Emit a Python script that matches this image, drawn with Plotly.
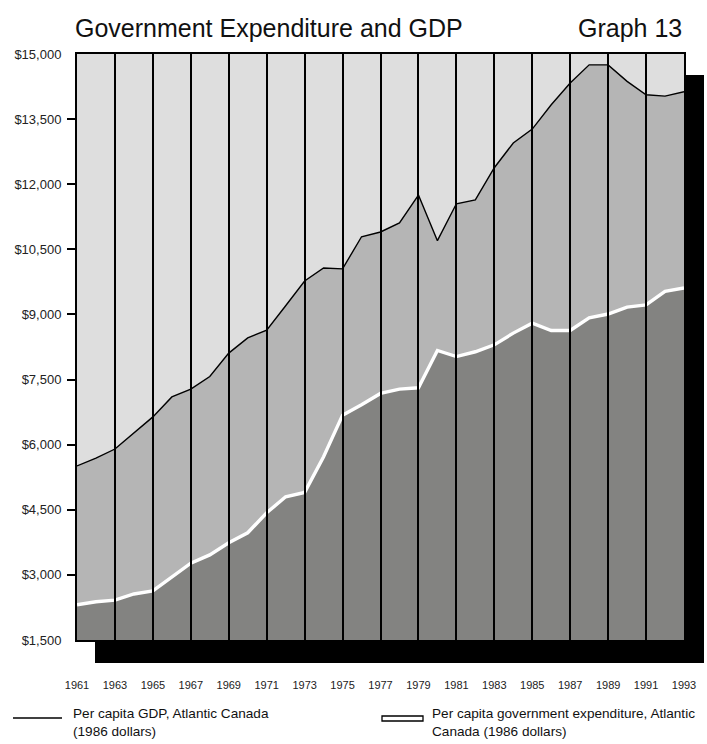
import plotly.graph_objects as go

# ---------------- data ----------------
years = list(range(1961, 1994))
gdp = [5510, 5690, 5900, 6270, 6640, 7100, 7280, 7570, 8110, 8460, 8640,
       9200, 9770, 10070, 10050, 10790, 10900, 11110, 11750, 10700, 11550,
       11640, 12380, 12950, 13270, 13830, 14330, 14750, 14750, 14370, 14060,
       14030, 14130]
expenditure = [2310, 2380, 2420, 2560, 2630, 2960, 3270, 3460, 3740, 3970,
               4430, 4800, 4900, 5720, 6680, 6920, 7180, 7280, 7310, 8170,
               8030, 8140, 8300, 8570, 8800, 8630, 8630, 8920, 9010, 9170,
               9220, 9530, 9610]
x_tick_years = years[::2]
y_tick_vals = [1500, 3000, 4500, 6000, 7500, 9000, 10500, 12000, 13500, 15000]
y_tick_text = ["$1,500", "$3,000", "$4,500", "$6,000", "$7,500", "$9,000",
               "$10,500", "$12,000", "$13,500", "$15,000"]
title_text = "Government Expenditure and GDP"
graph_label = "Graph 13"
legend_gdp = "Per capita GDP, Atlantic Canada<br>(1986 dollars)"
legend_exp = "Per capita government expenditure, Atlantic<br>Canada (1986 dollars)"

# ---------------- layout constants ----------------
W, H = 707, 744
ML, MR, MT, MB = 77, 23, 54, 104
PW, PH = W - ML - MR, H - MT - MB
FONT = "Liberation Sans, Arial, sans-serif"

C_TOP = "#dedede"
C_MID = "#b5b5b5"
C_LOW = "#838381"


def px_x(p):
    return (p - ML) / PW


def px_y(p):
    return (H - MB - p) / PH


fig = go.Figure()

fig.add_trace(go.Scatter(
    x=years, y=expenditure, mode="lines", fill="tozeroy", fillcolor=C_LOW,
    line=dict(color="white", width=3.4), showlegend=False, hoverinfo="skip"))
fig.add_trace(go.Scatter(
    x=years, y=gdp, mode="lines", fill="tonexty", fillcolor=C_MID,
    line=dict(color="black", width=1.4), showlegend=False, hoverinfo="skip"))
# invisible helper trace carrying the intermediate y tick marks
fig.add_trace(go.Scatter(
    x=years, y=gdp, mode="lines", yaxis="y2", line=dict(width=0),
    opacity=0, showlegend=False, hoverinfo="skip"))

shapes = []
# drop shadow (right band and bottom band)
shapes.append(dict(type="rect", xref="paper", yref="paper",
                   x0=px_x(684), x1=px_x(704), y0=px_y(663), y1=px_y(75),
                   fillcolor="black", line=dict(width=0), layer="below"))
shapes.append(dict(type="rect", xref="paper", yref="paper",
                   x0=px_x(95), x1=px_x(704), y0=px_y(663), y1=px_y(640),
                   fillcolor="black", line=dict(width=0), layer="below"))
# legend symbols
shapes.append(dict(type="line", xref="paper", yref="paper",
                   x0=px_x(13), x1=px_x(62), y0=px_y(718), y1=px_y(718),
                   line=dict(color="black", width=1.6)))
shapes.append(dict(type="rect", xref="paper", yref="paper",
                   x0=px_x(382), x1=px_x(423), y0=px_y(721), y1=px_y(716),
                   fillcolor="white", line=dict(color="black", width=1.3)))

annotations = [
    dict(text=title_text, xref="paper", yref="paper", x=px_x(73), y=px_y(28),
         xanchor="left", yanchor="middle", showarrow=False,
         font=dict(family=FONT, size=25, color="#111")),
    dict(text=graph_label, xref="paper", yref="paper", x=px_x(684), y=px_y(28),
         xanchor="right", yanchor="middle", showarrow=False,
         font=dict(family=FONT, size=25, color="#111")),
    dict(text=legend_gdp, xref="paper", yref="paper", x=px_x(71), y=px_y(704),
         xanchor="left", yanchor="top", align="left", showarrow=False,
         font=dict(family=FONT, size=13.6, color="#111")),
    dict(text=legend_exp, xref="paper", yref="paper", x=px_x(430), y=px_y(704),
         xanchor="left", yanchor="top", align="left", showarrow=False,
         font=dict(family=FONT, size=13.6, color="#111")),
]

fig.update_layout(
    width=W, height=H,
    margin=dict(l=ML, r=MR, t=MT, b=MB, pad=0),
    paper_bgcolor="white", plot_bgcolor=C_TOP,
    showlegend=False,
    shapes=shapes, annotations=annotations,
    xaxis=dict(range=[1961, 1993], tickvals=x_tick_years,
               ticktext=[str(y) for y in x_tick_years],
               ticks="inside", ticklen=PH, tickwidth=2, tickcolor="black",
               showgrid=False, zeroline=False, showline=True, linecolor="black",
               linewidth=2, mirror=True, layer="above traces",
               ticklabelstandoff=34,
               tickfont=dict(family=FONT, size=11, color="#222")),
    yaxis=dict(range=[1500, 15000], tickvals=y_tick_vals, ticktext=y_tick_text,
               ticks="", showgrid=False, zeroline=False, showline=True,
               linecolor="black", linewidth=2, mirror=True, layer="above traces",
               ticklabelstandoff=11,
               tickfont=dict(family=FONT, size=13, color="#222")),
    yaxis2=dict(range=[1500, 15000], overlaying="y", side="left",
                tickvals=y_tick_vals[1:-1], showticklabels=False,
                ticks="outside", ticklen=9, tickwidth=2, tickcolor="black",
                showgrid=False, zeroline=False, showline=False,
                layer="above traces"),
)

fig.write_html("out.html")
